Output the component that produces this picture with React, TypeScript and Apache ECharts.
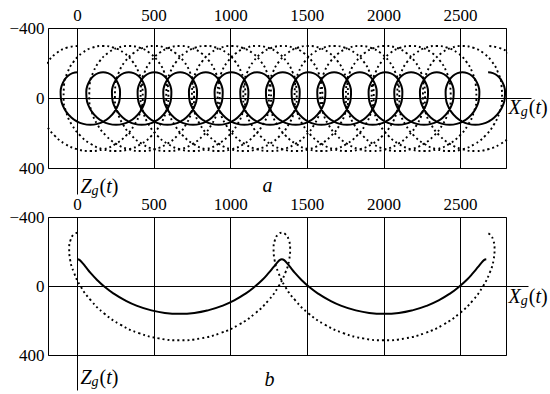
import React, { useEffect, useRef } from "react";
import * as echarts from "echarts";

// ---- axis ticks ----
const xTickValues = [0, 500, 1000, 1500, 2000, 2500];
const xMin = -189;
const xMax = 2800;

// ---- panel a: one loop of each trajectory, repeated at loop starts ----
const topLoopStarts = [0, 167.5, 335, 502.5, 670, 837.5, 1005, 1172.5, 1340, 1507.5, 1675, 1842.5, 2010, 2177.5, 2345, 2512.5];
const topSolidDx = [0, -32, -61, -85, -102, -110, -108, -96, -74, -43, -5, 38, 84, 130, 173, 211, 242, 264, 276, 278, 270, 253, 229, 199];
const topSolidZ = [-150, -145, -130, -106, -75, -39, 0, 39, 75, 106, 130, 145, 150, 145, 130, 106, 75, 39, 0, -39, -75, -106, -130, -145];
const topSolidEnd = [2680, -150];
const topDottedDx = [0, -71, -136, -191, -232, -255, -258, -241, -204, -149, -80, -1, 84, 168, 248, 317, 372, 409, 426, 422, 399, 359, 304, 238];
const topDottedZ = [-300, -290, -260, -212, -150, -78, 0, 78, 150, 212, 260, 290, 300, 290, 260, 212, 150, 78, 0, -78, -150, -212, -260, -290];
const topDottedEnd = [2680, -300];

// ---- panel b: one arch of each trajectory, repeated at arch starts ----
const botArchStarts = [0, 1334];
const botSolidDx = [0, 15, 32, 55, 85, 125, 175, 236, 308, 389, 477, 570, 667, 763, 857, 945, 1026, 1097, 1158, 1209, 1248, 1279, 1302, 1319];
const botSolidZ = [-158, -153, -137, -112, -79, -41, 0, 41, 79, 112, 137, 153, 158, 153, 137, 112, 79, 41, 0, -41, -79, -112, -137, -153];
const botSolidEnd = [2668, -158];
const botDottedDx = [0, -25, -45, -54, -48, -23, 21, 88, 174, 280, 400, 531, 667, 803, 934, 1054, 1159, 1246, 1312, 1357, 1382, 1388, 1379, 1359];
const botDottedZ = [-312, -301, -270, -221, -156, -81, 0, 81, 156, 221, 270, 301, 312, 301, 270, 221, 156, 81, 0, -81, -156, -221, -270, -301];
const botDottedEnd = [2668, -312];

function tile(starts: number[], dx: number[], z: number[], end: number[]) {
  const pts: number[][] = [];
  starts.forEach((s) => dx.forEach((d, i) => pts.push([s + d, z[i]])));
  pts.push(end);
  return pts;
}

const FONT = "Liberation Serif";

function axisPair(gridIndex: number) {
  const xAxis = {
    type: "value",
    gridIndex,
    position: "top",
    min: xMin,
    max: xMax,
    axisLine: { show: false },
    axisTick: { show: false },
    splitLine: { show: false },
    axisLabel: {
      customValues: xTickValues,
      fontFamily: FONT,
      fontSize: 17,
      color: "#000",
      margin: 4.5,
      formatter: (v: number) => String(v),
    },
  };
  const yAxis = {
    type: "value",
    gridIndex,
    inverse: true,
    min: -400,
    max: 400,
    interval: 400,
    axisLine: { show: false },
    axisTick: { show: false },
    splitLine: { show: true, lineStyle: { color: "#000", width: 1 } },
    axisLabel: {
      fontFamily: FONT,
      fontSize: 17,
      color: "#000",
      margin: 4,
      formatter: (v: number) => (v < 0 ? "\u2212" + Math.abs(v) : String(v)),
    },
  };
  return { xAxis, yAxis };
}

function gridLines() {
  return {
    silent: true,
    symbol: ["none", "none"],
    label: { show: false },
    emphasis: { disabled: true },
    lineStyle: { color: "#000", width: 1, type: "solid" },
    data: xTickValues.map((v) => ({ xAxis: v })),
  };
}

function solid(idx: number, data: number[][], withGrid: boolean) {
  return {
    type: "line",
    xAxisIndex: idx,
    yAxisIndex: idx,
    data,
    smooth: true,
    symbol: "none",
    clip: true,
    silent: true,
    lineStyle: { color: "#000", width: 2 },
    markLine: withGrid ? gridLines() : undefined,
  };
}

function dotted(idx: number, data: number[][]) {
  return {
    type: "line",
    xAxisIndex: idx,
    yAxisIndex: idx,
    data,
    smooth: true,
    symbol: "none",
    clip: true,
    silent: true,
    lineStyle: { color: "#000", width: 1.9, type: [2, 3], cap: "butt" },
  };
}

function mathLabel(letter: string) {
  return {
    text: `{v|${letter}}{s|g}{p|(}{i|t}{p|)}`,
    align: "left",
    verticalAlign: "middle",
    rich: {
      v: { fontFamily: FONT, fontStyle: "italic", fontSize: 20, lineHeight: 22, fill: "#000" },
      s: { fontFamily: FONT, fontStyle: "italic", fontSize: 14, lineHeight: 14, padding: [9, 1, 0, 0], fill: "#000" },
      p: { fontFamily: FONT, fontSize: 20, lineHeight: 22, fill: "#000" },
      i: { fontFamily: FONT, fontStyle: "italic", fontSize: 20, lineHeight: 22, fill: "#000" },
    },
  };
}

const crisp = (v: number) => Math.round(v - 0.5) + 0.5;

export default function App() {
  const ref = useRef<HTMLDivElement>(null);
  useEffect(() => {
    if (!ref.current) return;
    const chart = echarts.init(ref.current, null, { renderer: "svg" });
    const a0 = axisPair(0);
    const a1 = axisPair(1);
    const gridBase = { show: true, borderColor: "#000", borderWidth: 1, backgroundColor: "transparent", containLabel: false, outerBoundsMode: "none" };
    chart.setOption({
      animation: false,
      backgroundColor: "#fff",
      textStyle: { fontFamily: FONT, color: "#000" },
      grid: [
        { ...gridBase, left: 48.5, top: 28.5, width: 458, height: 140 },
        { ...gridBase, left: 48.5, top: 217.5, width: 458, height: 138 },
      ],
      xAxis: [a0.xAxis, a1.xAxis],
      yAxis: [a0.yAxis, a1.yAxis],
      series: [
        solid(0, tile(topLoopStarts, topSolidDx, topSolidZ, topSolidEnd), true),
        dotted(0, tile(topLoopStarts, topDottedDx, topDottedZ, topDottedEnd)),
        solid(1, tile(botArchStarts, botSolidDx, botSolidZ, botSolidEnd), true),
        dotted(1, tile(botArchStarts, botDottedDx, botDottedZ, botDottedEnd)),
      ],
    });

    const o0 = chart.convertToPixel({ gridIndex: 0 }, [0, 0]) as number[];
    const r0 = chart.convertToPixel({ gridIndex: 0 }, [xMax, 400]) as number[];
    const o1 = chart.convertToPixel({ gridIndex: 1 }, [0, 0]) as number[];
    const r1 = chart.convertToPixel({ gridIndex: 1 }, [xMax, 400]) as number[];
    const ln = (x1: number, y1: number, x2: number, y2: number) => ({
      type: "line",
      silent: true,
      shape: { x1, y1, x2, y2 },
      style: { stroke: "#000", lineWidth: 1 },
    });
    const txt = (x: number, y: number, style: any) => ({ type: "text", silent: true, x, y, style });
    const letter = (t: string) => ({
      text: t,
      fontFamily: FONT,
      fontStyle: "italic",
      fontSize: 20,
      fill: "#000",
      align: "center",
      verticalAlign: "middle",
    });
    chart.setOption({
      graphic: [
        ln(r0[0], crisp(o0[1]), r0[0] + 25, crisp(o0[1])),
        ln(crisp(o0[0]), r0[1], crisp(o0[0]), r0[1] + 26),
        ln(r1[0], crisp(o1[1]), r1[0] + 22, crisp(o1[1])),
        ln(crisp(o1[0]), r1[1], crisp(o1[0]), r1[1] + 35),
        txt(r0[0] + 2, o0[1] + 8, mathLabel("X")),
        txt(o0[0] + 3, r0[1] + 17.5, mathLabel("Z")),
        txt(r1[0] + 2, o1[1] + 9, mathLabel("X")),
        txt(o1[0] + 3, r1[1] + 21.5, mathLabel("Z")),
        txt(267.5, r0[1] + 16.5, letter("a")),
        txt(269.5, r1[1] + 23, letter("b")),
      ],
    });
    return () => chart.dispose();
  }, []);
  return (
    <div
      ref={ref}
      style={{ position: "fixed", left: 0, top: 0, width: 550, height: 394, background: "#fff" }}
    />
  );
}
